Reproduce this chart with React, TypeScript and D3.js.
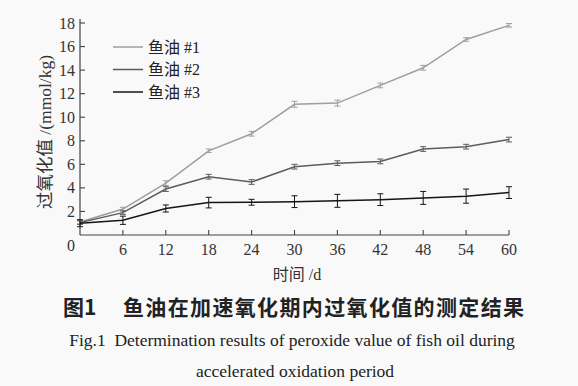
import React from 'react';
import * as d3 from 'd3';

// data
const days = [0, 6, 12, 18, 24, 30, 36, 42, 48, 54, 60];
const oil1 = [1.1, 2.2, 4.4, 7.15, 8.6, 11.1, 11.2, 12.7, 14.2, 16.6, 17.8];
const oil1Err = [0.15, 0.15, 0.2, 0.15, 0.2, 0.25, 0.25, 0.2, 0.2, 0.15, 0.15];
const oil2 = [1.05, 1.9, 3.9, 4.95, 4.5, 5.8, 6.1, 6.25, 7.3, 7.5, 8.1];
const oil2Err = [0.15, 0.15, 0.2, 0.2, 0.2, 0.2, 0.2, 0.2, 0.2, 0.2, 0.2];
const oil3 = [1.0, 1.25, 2.25, 2.75, 2.78, 2.83, 2.9, 3.0, 3.15, 3.3, 3.6];
const oil3Err = [0.3, 0.35, 0.3, 0.45, 0.25, 0.5, 0.55, 0.5, 0.55, 0.6, 0.5];
const seriesNames = ['鱼油 #1', '鱼油 #2', '鱼油 #3'];
const seriesColors = ['#9e9e9e', '#5c5c5c', '#151515'];
const yTicks = [2, 4, 6, 8, 10, 12, 14, 16, 18];
const xTicks = [6, 12, 18, 24, 30, 36, 42, 48, 54, 60];

const serif = '"Liberation Serif", "Noto Sans CJK SC", serif';
const hei = '"Noto Sans CJK SC", sans-serif';

export default function App() {
  const width = 578;
  const height = 386;
  const left = 80, right = 509, top = 23, bottom = 235;

  const x = d3.scaleLinear().domain([0, 60]).range([left, right]);
  const y = d3.scaleLinear().domain([0, 18]).range([bottom, top]);

  const series = [
    { vals: oil1, err: oil1Err },
    { vals: oil2, err: oil2Err },
    { vals: oil3, err: oil3Err },
  ];

  const line = d3.line<number>()
    .x((_, i) => x(days[i]))
    .y(d => y(d));

  const axisColor = '#444';

  return (
    <svg width={width} height={height} style={{ position: 'absolute', left: 0, top: 0, background: '#f9f9f9' }}>
      <rect x={0} y={0} width={width} height={height} fill="#f9f9f9" />

      {/* axes */}
      <line x1={left} x2={left} y1={top - 4} y2={bottom} stroke={axisColor} strokeWidth={1.2} />
      <line x1={left} x2={right} y1={bottom} y2={bottom} stroke={axisColor} strokeWidth={1.2} />
      {yTicks.map(t => (
        <g key={'y' + t}>
          <line x1={left} x2={left + 5} y1={y(t)} y2={y(t)} stroke={axisColor} strokeWidth={1.1} />
          <text x={left - 5} y={y(t)} dy="0.35em" textAnchor="end" fontFamily={serif} fontSize={16} fill="#333">{t}</text>
        </g>
      ))}
      {xTicks.map(t => (
        <g key={'x' + t}>
          <line x1={x(t)} x2={x(t)} y1={bottom} y2={bottom - 5} stroke={axisColor} strokeWidth={1.1} />
          <text x={x(t)} y={254.5} textAnchor="middle" fontFamily={serif} fontSize={16} fill="#333">{t}</text>
        </g>
      ))}
      <text x={71} y={251} textAnchor="middle" fontFamily={serif} fontSize={16} fill="#333">0</text>

      {/* axis titles */}
      <text transform={`translate(51,132) rotate(-90)`} textAnchor="middle" fontFamily={serif} fontSize={17.5} fill="#333">过氧化值 /(mmol/kg)</text>
      <text x={297} y={280} textAnchor="middle" fontFamily={serif} fontSize={16} fill="#333">时间 /d</text>

      {/* series */}
      {series.map((s, si) => (
        <g key={'s' + si}>
          <path d={line(s.vals) || ''} fill="none" stroke={seriesColors[si]} strokeWidth={1.5} />
          {s.vals.map((v, i) => {
            const cx = x(days[i]);
            const y1 = y(v + s.err[i]);
            const y2 = y(v - s.err[i]);
            return (
              <g key={i} stroke={seriesColors[si]} strokeWidth={1}>
                <line x1={cx} x2={cx} y1={y1} y2={y2} />
                <line x1={cx - 3} x2={cx + 3} y1={y1} y2={y1} />
                <line x1={cx - 3} x2={cx + 3} y1={y2} y2={y2} />
              </g>
            );
          })}
        </g>
      ))}

      {/* legend */}
      {seriesNames.map((n, i) => (
        <g key={'l' + i} transform={`translate(113,${47 + i * 22.5})`}>
          <line x1={0} x2={30} y1={0} y2={0} stroke={seriesColors[i]} strokeWidth={1.5} />
          <text x={35} y={0} dy="0.35em" fontFamily={serif} fontSize={16} fill="#222">{n}</text>
        </g>
      ))}

      {/* captions */}
      <text x={63} y={315} fontFamily={hei} fontWeight="bold" fontSize={21} fill="#222">图1</text>
      <text x={123} y={315} fontFamily={hei} fontWeight="bold" fontSize={21} fill="#222" textLength={401} lengthAdjust="spacing">鱼油在加速氧化期内过氧化值的测定结果</text>
      <text x={292} y={346} textAnchor="middle" fontFamily={serif} fontSize={17.5} fill="#222" xmlSpace="preserve">Fig.1  Determination results of peroxide value of fish oil during</text>
      <text x={295} y={377} textAnchor="middle" fontFamily={serif} fontSize={17.5} fill="#222">accelerated oxidation period</text>
    </svg>
  );
}
